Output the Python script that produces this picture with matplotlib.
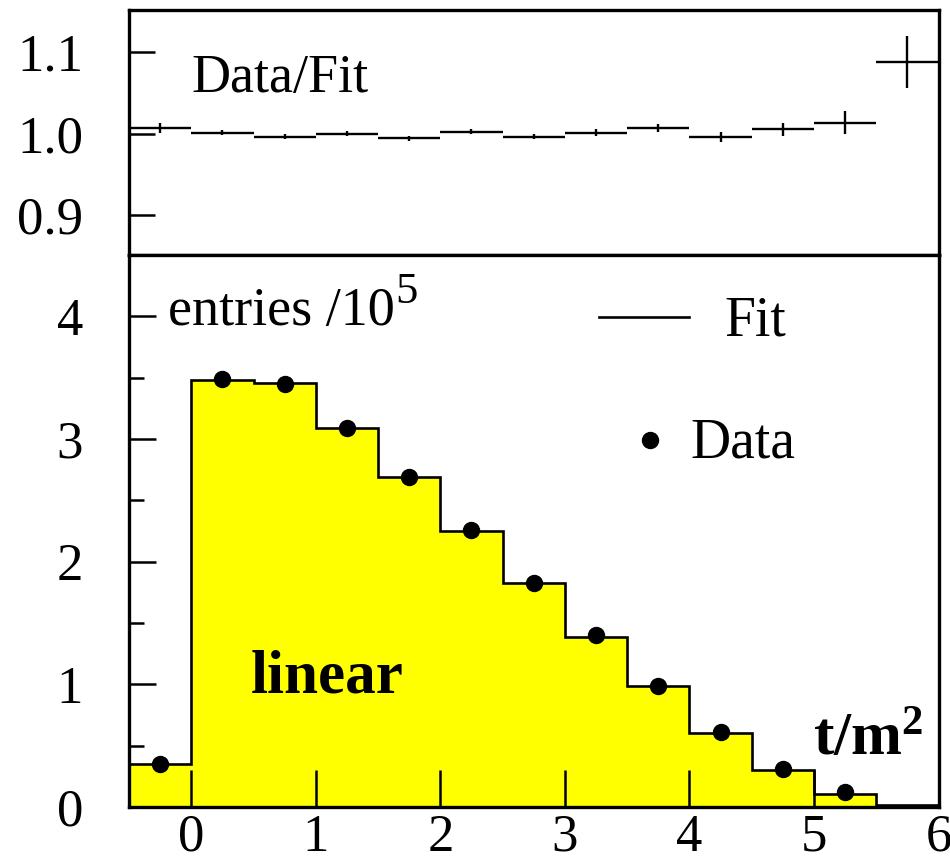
import matplotlib
matplotlib.use("Agg")
import matplotlib.pyplot as plt
import numpy as np

plt.rcParams['font.family'] = ['Liberation Serif', 'DejaVu Serif']
plt.rcParams['mathtext.fontset'] = 'custom'
plt.rcParams['mathtext.rm'] = 'Liberation Serif'
plt.rcParams['mathtext.it'] = 'Liberation Serif:italic'
plt.rcParams['mathtext.bf'] = 'Liberation Serif:bold'

# ---- data ----
bin_edges = [-0.5, 0.0, 0.5, 1.0, 1.5, 2.0, 2.5, 3.0, 3.5, 4.0, 4.5, 5.0, 5.5, 6.0]
fit_vals = [0.35, 3.48, 3.46, 3.09, 2.69, 2.25, 1.83, 1.39, 0.99, 0.60, 0.30, 0.11, 0.02]
data_x = [-0.25, 0.25, 0.75, 1.25, 1.75, 2.25, 2.75, 3.25, 3.75, 4.25, 4.75, 5.25]
data_vals = [0.35, 3.49, 3.45, 3.09, 2.69, 2.26, 1.83, 1.40, 0.99, 0.61, 0.31, 0.12]
ratio_x = [-0.25, 0.25, 0.75, 1.25, 1.75, 2.25, 2.75, 3.25, 3.75, 4.25, 4.75, 5.25, 5.75]
ratio_vals = [1.0065, 1.001, 0.996, 1.000, 0.994, 1.002, 0.996, 1.001, 1.007, 0.996, 1.005, 1.013, 1.088]
ratio_err = [0.006, 0.003, 0.003, 0.003, 0.003, 0.003, 0.003, 0.004, 0.005, 0.006, 0.008, 0.014, 0.032]
ratio_ticks = [0.9, 1.0, 1.1]
ratio_ticklabels = ['0.9', '1.0', '1.1']
x_ticks = [0, 1, 2, 3, 4, 5, 6]
y_ticks = [0, 1, 2, 3, 4]

fig = plt.figure(figsize=(9.5, 8.66), dpi=100)
L, R = 0.1358, 0.9879
ax_top = fig.add_axes([L, 0.7055, R - L, 0.9885 - 0.7055])
ax_bot = fig.add_axes([L, 0.0681, R - L, 0.7055 - 0.0681])

FS = 38
spine_w = 2.4

# ---- top ratio panel ----
half_w = [(bin_edges[i + 1] - bin_edges[i]) / 2 for i in range(len(ratio_x))]
ax_top.errorbar(ratio_x, ratio_vals, xerr=half_w, yerr=ratio_err, fmt='none',
                ecolor='black', elinewidth=1.7, capsize=0)
ax_top.set_xlim(-0.5, 6)
ax_top.set_ylim(0.851, 1.1515)
ax_top.set_yticks(ratio_ticks)
ax_top.set_yticklabels(ratio_ticklabels)
ax_top.tick_params(axis='y', direction='in', length=19, width=1.8, labelsize=FS, pad=33,
                   left=True, right=False)
ax_top.tick_params(axis='x', bottom=False, top=False, labelbottom=False)
ax_top.text(0.0766, 0.665, 'Data/Fit', transform=ax_top.transAxes, fontsize=39,
            va='baseline', ha='left')

# ---- bottom histogram panel ----
ax_bot.stairs(fit_vals, bin_edges, fill=True, color='#ffff00', zorder=1)
ax_bot.stairs(fit_vals, bin_edges, color='black', linewidth=1.9, zorder=2)
ax_bot.plot(data_x, data_vals, 'o', color='black', markersize=11.5, zorder=3)
ax_bot.set_xlim(-0.5, 6)
ax_bot.set_ylim(0, 4.5)
ax_bot.set_xticks(x_ticks)
ax_bot.set_xticklabels([str(t) for t in x_ticks])
ax_bot.set_yticks(y_ticks)
ax_bot.set_yticklabels([str(t) for t in y_ticks])
ax_bot.set_yticks(np.arange(0.5, 4.5, 1.0), minor=True)
ax_bot.tick_params(axis='y', which='major', direction='in', length=19.5, width=1.8,
                   labelsize=FS, pad=33, left=True, right=False)
ax_bot.tick_params(axis='y', which='minor', direction='in', length=11, width=1.8,
                   left=True, right=False)
ax_bot.tick_params(axis='x', which='major', direction='in', length=26.5, width=1.8,
                   labelsize=FS, pad=5, bottom=True, top=False)

for ax in (ax_top, ax_bot):
    for s in ax.spines.values():
        s.set_linewidth(spine_w)

# legend drawn manually
ax_bot.plot([0.581, 0.692], [0.888, 0.888], transform=ax_bot.transAxes, color='black',
            linewidth=1.9, clip_on=False)
ax_bot.text(0.736, 0.855, 'Fit', transform=ax_bot.transAxes, fontsize=40, va='baseline', ha='left')
ax_bot.plot([0.644], [0.665], 'o', transform=ax_bot.transAxes, color='black', markersize=11.5)
ax_bot.text(0.693, 0.634, 'Data', transform=ax_bot.transAxes, fontsize=40, va='baseline', ha='left')

ax_bot.text(0.048, 0.873, 'entries /10', transform=ax_bot.transAxes, fontsize=39,
            va='baseline', ha='left')
ax_bot.text(0.329, 0.913, '5', transform=ax_bot.transAxes, fontsize=32,
            va='baseline', ha='left')
ax_bot.text(0.151, 0.208, 'linear', transform=ax_bot.transAxes, fontsize=44,
            fontweight='bold', va='baseline', ha='left')
ax_bot.text(0.845, 0.094, r'$\mathbf{t/m^2}$', transform=ax_bot.transAxes, fontsize=44,
            va='baseline', ha='left')

fig.savefig('out.png', dpi=100)
